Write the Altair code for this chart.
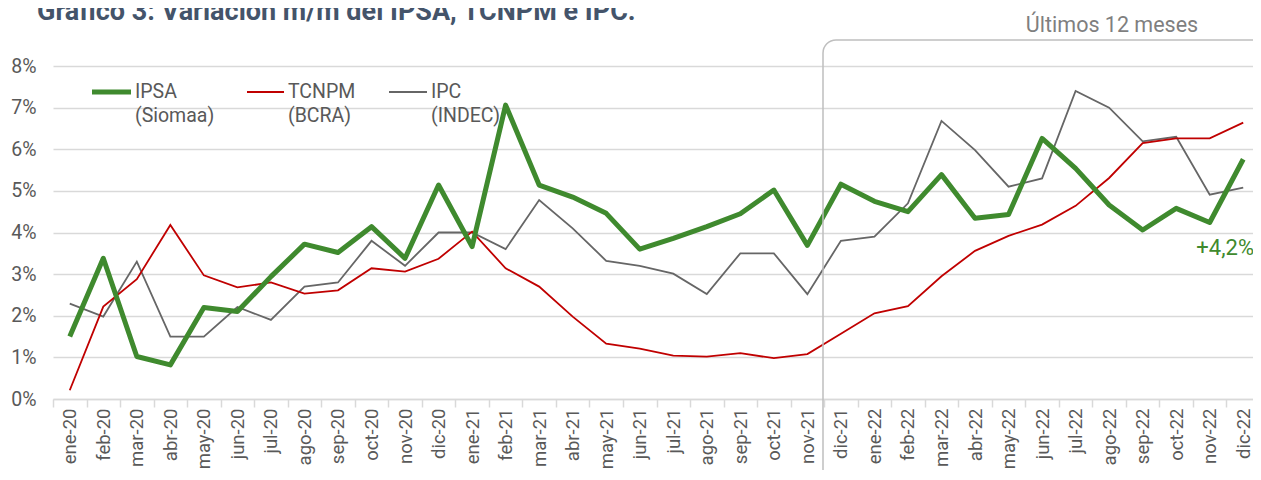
import altair as alt
import pandas as pd

months = ["ene-20", "feb-20", "mar-20", "abr-20", "may-20", "jun-20", "jul-20", "ago-20",
          "sep-20", "oct-20", "nov-20", "dic-20",
          "ene-21", "feb-21", "mar-21", "abr-21", "may-21", "jun-21", "jul-21", "ago-21",
          "sep-21", "oct-21", "nov-21", "dic-21",
          "ene-22", "feb-22", "mar-22", "abr-22", "may-22", "jun-22", "jul-22", "ago-22",
          "sep-22", "oct-22", "nov-22", "dic-22"]

ipsa = [1.50, 3.38, 1.02, 0.82, 2.20, 2.10, 2.94, 3.72, 3.52, 4.14, 3.38, 5.14,
        3.66, 7.06, 5.14, 4.85, 4.46, 3.60, 3.86, 4.14, 4.45, 5.02, 3.69, 5.16,
        4.75, 4.50, 5.39, 4.34, 4.43, 6.26, 5.54, 4.66, 4.06, 4.58, 4.24, 5.76]
tcnpm = [0.21, 2.22, 2.88, 4.18, 2.97, 2.68, 2.80, 2.53, 2.61, 3.14, 3.06, 3.37,
         4.02, 3.14, 2.70, 1.98, 1.33, 1.21, 1.04, 1.02, 1.10, 0.98, 1.08, 1.57,
         2.06, 2.23, 2.95, 3.56, 3.92, 4.19, 4.64, 5.31, 6.15, 6.26, 6.26, 6.64]
ipc = [2.29, 1.98, 3.30, 1.50, 1.50, 2.21, 1.90, 2.70, 2.80, 3.80, 3.20, 4.00,
       4.00, 3.60, 4.78, 4.10, 3.32, 3.20, 3.01, 2.52, 3.50, 3.50, 2.52, 3.80,
       3.90, 4.70, 6.68, 5.98, 5.10, 5.30, 7.40, 7.00, 6.19, 6.30, 4.91, 5.08]

y_ticks = [0, 1, 2, 3, 4, 5, 6, 7, 8]

GREEN = "#3f8a2e"
RED = "#c00000"
GRAY = "#666666"
TXT = "#595959"
FONT = "Roboto"

W, H = 1207, 333

df = pd.DataFrame({"mes": months, "IPSA": ipsa, "TCNPM": tcnpm, "IPC": ipc})

xenc = alt.X("mes:N", sort=months,
             scale=alt.Scale(type="band", paddingInner=0, paddingOuter=0),
             axis=alt.Axis(title=None, labelAngle=-90, labelAlign="right", labelBaseline="middle",
                           labelFontSize=18.5, labelColor=TXT, labelFont=FONT, labelPadding=1,
                           tickBand="extent", ticks=True, tickSize=8, tickColor="#d9d9d9",
                           tickWidth=1.5, domainColor="#d9d9d9", domainWidth=1.5, grid=False))

yscale = alt.Scale(domain=[0, 8], nice=False, zero=True)
yaxis = alt.Axis(title=None, values=y_ticks, labelExpr="datum.value + '%'",
                 labelFontSize=19.5, labelColor=TXT, labelFont=FONT, labelPadding=17,
                 ticks=False, domain=False, grid=True, gridColor="#d9d9d9", gridWidth=1.5)

base = alt.Chart(df)

line_ipc = base.mark_line(color=GRAY, strokeWidth=1.8).encode(
    x=xenc, y=alt.Y("IPC:Q", scale=yscale, axis=yaxis))
line_tcn = base.mark_line(color=RED, strokeWidth=1.8).encode(
    x=xenc, y=alt.Y("TCNPM:Q", scale=yscale))
line_ipsa = base.mark_line(color=GREEN, strokeWidth=5, strokeJoin="round", strokeCap="butt").encode(
    x=xenc, y=alt.Y("IPSA:Q", scale=yscale))

one = alt.Chart(pd.DataFrame({"k": [0]}))

# "Últimos 12 meses" box
box = one.mark_rect(fill=None, fillOpacity=0, stroke="#bfbfbf", strokeWidth=1.5,
                    cornerRadius=13).encode(
    x=alt.value(770), x2=alt.value(1214), y=alt.value(-26), y2=alt.value(440))

ult = one.mark_text(text="Últimos 12 meses", font=FONT, fontSize=21.5, color="#7f7f7f",
                    align="center", baseline="middle").encode(
    x=alt.value(1059), y=alt.value(-40))

plus = one.mark_text(text="+4,2%", font=FONT, fontSize=22, color=GREEN,
                     align="right", baseline="middle").encode(
    x=alt.value(1201), y=alt.value(182))

title = one.mark_text(text="Gráfico 3: Variación m/m del IPSA, TCNPM e IPC.", font=FONT,
                      fontSize=27, fontWeight="bold", color="#44546a",
                      align="left", baseline="alphabetic").encode(
    x=alt.value(-16), y=alt.value(-46))

legend_items = [
    ("IPSA", "(Siomaa)", GREEN, 5, 39, 78, 82),
    ("TCNPM", "(BCRA)", RED, 1.8, 194, 231, 235),
    ("IPC", "(INDEC)", GRAY, 1.8, 336, 374, 378),
]
legend_layers = []
for l1, l2, col, sw, x1, x2, xt in legend_items:
    legend_layers.append(one.mark_rule(color=col, strokeWidth=sw).encode(
        x=alt.value(x1), x2=alt.value(x2), y=alt.value(26)))
    legend_layers.append(one.mark_text(text=l1, font=FONT, fontSize=19.5, color=TXT,
                                       align="left", baseline="middle").encode(
        x=alt.value(xt), y=alt.value(26)))
    legend_layers.append(one.mark_text(text=l2, font=FONT, fontSize=19.5, color=TXT,
                                       align="left", baseline="middle").encode(
        x=alt.value(xt), y=alt.value(50)))

chart = alt.layer(line_ipc, line_tcn, line_ipsa, box, ult, plus, title, *legend_layers).properties(
    width=W, height=H,
    autosize=alt.AutoSizeParams(type="none"),
    padding={"left": 45, "top": 58, "right": -7, "bottom": 71},
    background="white",
).configure_view(stroke=None)

chart.save("out.html", embed_options={"renderer": "svg", "actions": False})
